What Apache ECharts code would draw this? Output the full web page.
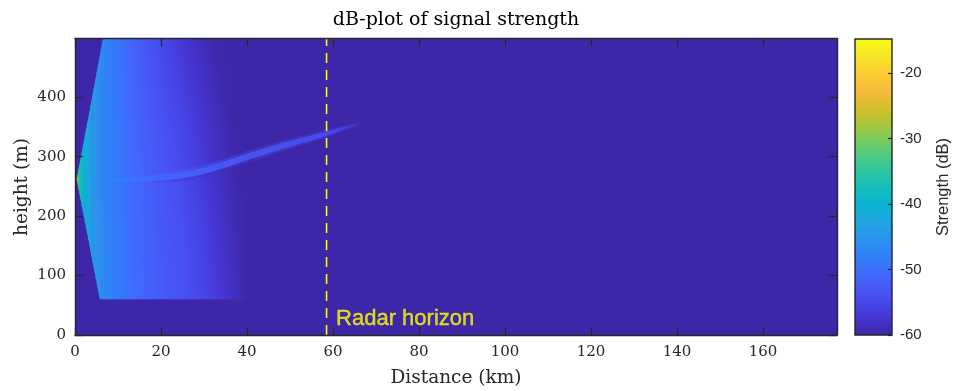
<!DOCTYPE html>
<html>
<head>
<meta charset="utf-8">
<script src="https://cdn.jsdelivr.net/npm/echarts@6/dist/echarts.min.js"></script>
<style>
  html, body { margin: 0; padding: 0; background: #ffffff; }
  #chart { width: 955px; height: 391px; }
</style>
</head>
<body>
<div id="chart"></div>
<script>
// ---- Field data -------------------------------------------------------
// Range profiles of the computed field (km) and the wedge it fills (m)
const profileKm = [0.35, 0.75, 1.25, 1.75, 2.25, 2.75, 3.25, 3.75, 4.25, 4.75, 5.25, 5.7, 6.1, 6.5, 7,
  8, 9, 10, 11, 12, 13, 14, 15, 16, 17, 18, 19, 20, 22, 24, 26, 28, 30, 32, 34, 36, 38, 40];
const wedgeTopM = [262, 277.5, 297, 316, 336, 355, 374, 394, 413, 432, 452, 469, 485, 500, 500,
  500, 500, 500, 500, 500, 500, 500, 500, 500, 500, 500, 500, 500, 500, 500, 500, 500, 500, 500, 500, 500, 500, 500];
const wedgeBottomM = [262, 247, 228, 209, 191, 172, 153, 134, 115, 97, 78, 61, 60, 60, 60,
  60, 60, 60, 60, 60, 60, 60, 60, 60, 60, 60, 60, 60, 60, 60, 60, 60, 60, 60, 60, 60, 60, 60];
// Heights (m) at which each profile's strength is given
const profileHeightsM = [60, 180, 262, 350, 500];
// Strength (dB) of each profile at the heights above
const profileDb = [
  [-32, -32, -28.5, -32, -32],
  [-36.5, -36.5, -33, -36.5, -36.5],
  [-38.8, -38.8, -36.5, -38.8, -38.8],
  [-40.4, -40.4, -38.8, -40.4, -40.4],
  [-41.5, -41.5, -40.4, -41.7, -41.7],
  [-42.2, -42.2, -41.5, -42.6, -42.6],
  [-42.9, -42.9, -42.6, -43.3, -43.3],
  [-43.5, -43.7, -43.7, -44, -44],
  [-44.1, -44.3, -44.4, -44.5, -44.5],
  [-44.7, -44.9, -45.1, -45.1, -45.1],
  [-45.2, -45.5, -45.7, -45.7, -45.7],
  [-45.7, -46, -46.3, -46.3, -46.2],
  [-46, -46.4, -46.7, -46.7, -46.5],
  [-46.4, -46.7, -47, -47, -46.8],
  [-46.8, -47.1, -47.4, -47.4, -47.3],
  [-47.4, -47.7, -47.9, -47.9, -48],
  [-47.9, -48.2, -48.4, -48.4, -48.7],
  [-48.4, -48.7, -48.9, -49, -49.3],
  [-48.9, -49.2, -49.4, -49.6, -50],
  [-49.4, -49.7, -49.9, -50.1, -50.6],
  [-49.9, -50.2, -50.4, -50.6, -51.2],
  [-50.3, -50.6, -50.8, -51.1, -51.8],
  [-50.7, -51, -51.2, -51.5, -52.3],
  [-51.1, -51.3, -51.6, -51.9, -52.8],
  [-51.4, -51.7, -51.9, -52.3, -53.3],
  [-51.7, -52, -52.2, -52.7, -53.8],
  [-52, -52.3, -52.6, -53.1, -54.3],
  [-52.3, -52.7, -52.9, -53.4, -54.8],
  [-52.8, -53.2, -53.6, -54.1, -55.7],
  [-53.3, -53.8, -54.3, -54.8, -56.6],
  [-53.8, -54.4, -55, -55.6, -57.5],
  [-54.5, -55.1, -55.8, -56.5, -58.3],
  [-55.3, -56, -56.7, -57.4, -59],
  [-56.1, -56.9, -57.6, -58.2, -59.6],
  [-57, -57.8, -58.5, -59, -60],
  [-57.9, -58.6, -59.2, -59.6, -60],
  [-58.9, -59.4, -59.7, -60, -60],
  [-60, -60, -60, -60, -60]
];

// Ducted beam rising with range
const streakKm    = [8, 12, 16, 20, 24, 28, 32, 36, 40, 44, 48, 52, 56, 58.5, 61, 64, 67];
const streakM     = [261, 262, 263, 265, 268, 273, 281, 290, 300, 309, 318, 326, 334, 339, 345, 351, 357];
const streakHalfM = [1.5, 2.5, 3.5, 4.2, 4.8, 5.2, 5.5, 5.5, 5.5, 5.2, 4.8, 4.4, 4, 3.6, 3, 2, 0.8];
const streakDb    = [-47.3, -48.6, -50, -51, -51.6, -52, -52.4, -52.7, -53, -53.2, -53.5, -53.8, -54.1, -54.4, -55.3, -56.9, -59.5];

// Faint null just under the beam
const shadowKm    = [14, 18, 22, 26, 30, 34, 38, 42];
const shadowM     = [256.5, 257, 259, 262.5, 268.5, 277, 286.5, 296];
const shadowHalfM = [1, 1.6, 2, 2.2, 2.2, 2, 1.8, 1.2];
const shadowDb    = [-51.5, -53.5, -55.8, -57.5, -58.8, -59.6, -60, -60];

const floorDb = -60;            // everything below is clipped to this
const dbRange = [-60, -14.8];   // colour scale limits
const horizonKm = 58.5;
const horizonLabel = 'Radar horizon';
const horizonLabelM = 27;

const xMax = 177.2, yMax = 499;
const xTicks = [0, 20, 40, 60, 80, 100, 120, 140, 160];
const yTicks = [0, 100, 200, 300, 400];
const cbTicks = [-60, -50, -40, -30, -20];

// ---- Colour map (parula) ------------------------------------------------
const PARULA = [
  [0 / 63, 0.2422, 0.1504, 0.6603], [4 / 63, 0.2706, 0.2147, 0.8364],
  [8 / 63, 0.2813, 0.3006, 0.9414], [12 / 63, 0.2699, 0.3892, 0.9906],
  [16 / 63, 0.1963, 0.4847, 0.9892], [20 / 63, 0.1687, 0.5703, 0.9359],
  [24 / 63, 0.1248, 0.6459, 0.8883], [28 / 63, 0.0297, 0.7082, 0.8163],
  [32 / 63, 0.0964, 0.7500, 0.7120], [36 / 63, 0.2161, 0.7843, 0.5923],
  [40 / 63, 0.3909, 0.8029, 0.4354], [44 / 63, 0.6174, 0.7876, 0.2612],
  [48 / 63, 0.8203, 0.7498, 0.1535], [52 / 63, 0.9728, 0.7298, 0.2394],
  [56 / 63, 0.9892, 0.8136, 0.1885], [60 / 63, 0.9597, 0.9135, 0.1423],
  [63 / 63, 0.9769, 0.9839, 0.0805]
];
function parulaAt(t) {
  t = Math.max(0, Math.min(1, t));
  let k = 0;
  while (k < PARULA.length - 2 && PARULA[k + 1][0] < t) k++;
  const a = PARULA[k], b = PARULA[k + 1];
  const u = (t - a[0]) / (b[0] - a[0]);
  const c = [1, 2, 3].map(j => Math.round(255 * (a[j] + (b[j] - a[j]) * u)));
  return 'rgb(' + c.join(',') + ')';
}
function dbColor(db) {
  return parulaAt((db - dbRange[0]) / (dbRange[1] - dbRange[0]));
}

// ---- Renderers -----------------------------------------------------------
function renderFloor(params, api) {
  const p0 = api.coord([0, yMax]);
  const p1 = api.coord([xMax, 0]);
  return { type: 'rect', shape: { x: p0[0], y: p0[1], width: p1[0] - p0[0], height: p1[1] - p0[1] },
    style: { fill: dbColor(floorDb) } };
}

// One panel between two neighbouring range profiles, shaded smoothly
// between them (thin strips, each with a vertical gradient).
function renderField(params, api) {
  const i = params.dataIndex;
  const A = api.coord([profileKm[i], 0]), B = api.coord([profileKm[i + 1], 0]);
  const yLo = api.coord([0, profileHeightsM[0]])[1];
  const yHi = api.coord([0, profileHeightsM[profileHeightsM.length - 1]])[1];
  const offsets = profileHeightsM.map(h => (api.coord([0, h])[1] - yLo) / (yHi - yLo));
  const topA = api.coord([0, wedgeTopM[i]])[1], topB = api.coord([0, wedgeTopM[i + 1]])[1];
  const botA = api.coord([0, wedgeBottomM[i]])[1], botB = api.coord([0, wedgeBottomM[i + 1]])[1];
  const n = Math.max(1, Math.ceil((B[0] - A[0]) / 1.5));
  const children = [];
  for (let s = 0; s < n; s++) {
    const u0 = s / n, u1 = (s + 1) / n, um = (s + 0.5) / n;
    const x0 = A[0] + (B[0] - A[0]) * u0;
    const x1 = A[0] + (B[0] - A[0]) * u1 + (i < profileDb.length - 2 || s < n - 1 ? 0.6 : 0);
    const pts = [
      [x0, botA + (botB - botA) * u0], [x1, botA + (botB - botA) * u1],
      [x1, topA + (topB - topA) * u1], [x0, topA + (topB - topA) * u0]
    ];
    const stops = offsets.map((o, k) => ({
      offset: o,
      color: dbColor(profileDb[i][k] + (profileDb[i + 1][k] - profileDb[i][k]) * um)
    }));
    children.push({ type: 'polygon', shape: { points: pts },
      style: { fill: new echarts.graphic.LinearGradient(0, yLo, 0, yHi, stops, true) } });
  }
  return { type: 'group', children: children };
}

function bandRenderer(km, mid, half, db, widen, opacity) {
  return function (params, api) {
    const j = params.dataIndex;
    const a = km[j], b = km[j + 1];
    const t1 = api.coord([a, mid[j] + half[j] * widen]);
    const t2 = api.coord([b, mid[j + 1] + half[j + 1] * widen]);
    const b2 = api.coord([b, mid[j + 1] - half[j + 1] * widen]);
    const b1 = api.coord([a, mid[j] - half[j] * widen]);
    if (j < km.length - 2) { t2[0] += 0.6; b2[0] += 0.6; }
    const fill = new echarts.graphic.LinearGradient(t1[0], 0, t2[0], 0,
      [{ offset: 0, color: dbColor(db[j]) }, { offset: 1, color: dbColor(db[j + 1]) }], true);
    return { type: 'polygon', shape: { points: [t1, t2, b2, b1] }, style: { fill: fill, opacity: opacity } };
  };
}

function renderColorbar(params, api) {
  const p0 = api.coord([0, dbRange[1]]);
  const p1 = api.coord([1, dbRange[0]]);
  const stops = PARULA.map(s => ({ offset: s[0], color: parulaAt(s[0]) }));
  return { type: 'rect', shape: { x: p0[0], y: p0[1], width: p1[0] - p0[0], height: p1[1] - p0[1] },
    style: { fill: new echarts.graphic.LinearGradient(0, p1[1], 0, p0[1], stops, true),
      stroke: '#262626', lineWidth: 1.4 } };
}

// ---- Chart ---------------------------------------------------------------
const ink = '#262626';
const frameLine = { show: true, onZero: false, lineStyle: { color: ink, width: 1.4 } };
const tickStyle = { color: ink, width: 1.2 };
// negative length turns the ticks into the plot box
const tickIn = (vals, len) => ({ show: true, inside: false, length: -len, lineStyle: tickStyle, customValues: vals });
const serif = 'DejaVu Serif';
const sans = 'Liberation Sans';

const chart = echarts.init(document.getElementById('chart'), null, { renderer: 'canvas' });
chart.setOption({
  animation: false,
  backgroundColor: '#ffffff',
  grid: [
    { left: 75, top: 38.5, width: 762, height: 296.5 },
    { left: 855, top: 39, width: 37, height: 296 }
  ],
  xAxis: [
    { gridIndex: 0, type: 'value', min: 0, max: xMax, position: 'bottom', z: 10,
      axisLine: frameLine, splitLine: { show: false }, axisTick: tickIn(xTicks, 8),
      axisLabel: { margin: 10, fontFamily: serif, fontSize: 15, color: ink, customValues: xTicks } },
    { gridIndex: 0, type: 'value', min: 0, max: xMax, position: 'top', z: 10,
      axisLine: frameLine, splitLine: { show: false }, axisLabel: { show: false },
      axisTick: tickIn(xTicks, 8) },
    { gridIndex: 1, type: 'value', min: 0, max: 1, show: false }
  ],
  yAxis: [
    { gridIndex: 0, type: 'value', min: 0, max: yMax, position: 'left', z: 10,
      axisLine: frameLine, splitLine: { show: false }, axisTick: tickIn(yTicks, 8),
      axisLabel: { margin: 9, fontFamily: serif, fontSize: 15, color: ink, customValues: yTicks } },
    { gridIndex: 0, type: 'value', min: 0, max: yMax, position: 'right', z: 10,
      axisLine: frameLine, splitLine: { show: false }, axisLabel: { show: false },
      axisTick: tickIn(yTicks, 8) },
    { gridIndex: 1, type: 'value', min: dbRange[0], max: dbRange[1], position: 'right', z: 10,
      axisLine: { show: false, onZero: false }, splitLine: { show: false }, axisTick: tickIn(cbTicks, 4),
      axisLabel: { margin: 8, fontFamily: sans, fontSize: 15, color: ink, customValues: cbTicks } }
  ],
  series: [
    { type: 'custom', xAxisIndex: 0, yAxisIndex: 0, z: 1, clip: true, silent: true,
      data: [[xMax / 2, yMax / 2]], renderItem: renderFloor },
    { type: 'custom', xAxisIndex: 0, yAxisIndex: 0, z: 2, clip: true, silent: true,
      data: profileKm.slice(0, -1).map(x => [x, profileHeightsM[2]]), renderItem: renderField },
    { type: 'custom', xAxisIndex: 0, yAxisIndex: 0, z: 3, clip: true, silent: true,
      data: streakKm.slice(0, -1).map((x, j) => [x, streakM[j]]),
      renderItem: bandRenderer(streakKm, streakM, streakHalfM, streakDb, 1.8, 0.3) },
    { type: 'custom', xAxisIndex: 0, yAxisIndex: 0, z: 4, clip: true, silent: true,
      data: shadowKm.slice(0, -1).map((x, j) => [x, shadowM[j]]),
      renderItem: bandRenderer(shadowKm, shadowM, shadowHalfM, shadowDb, 1, 0.7) },
    { type: 'custom', xAxisIndex: 0, yAxisIndex: 0, z: 5, clip: true, silent: true,
      data: streakKm.slice(0, -1).map((x, j) => [x, streakM[j]]),
      renderItem: bandRenderer(streakKm, streakM, streakHalfM, streakDb, 1, 0.9) },
    { type: 'line', xAxisIndex: 0, yAxisIndex: 0, z: 6, silent: true, symbol: 'none',
      data: [[horizonKm, 0], [horizonKm, yMax]],
      lineStyle: { color: '#ffff00', width: 1.6, type: [10, 7] } },
    { type: 'scatter', xAxisIndex: 0, yAxisIndex: 0, z: 7, silent: true, symbolSize: 1,
      itemStyle: { color: 'rgba(0,0,0,0)' },
      data: [[horizonKm, horizonLabelM]],
      label: { show: true, position: 'right', distance: 9, formatter: horizonLabel,
        fontFamily: sans, fontSize: 22, color: '#ffff00',
        textBorderColor: '#ffff00', textBorderWidth: 0.4 } },
    { type: 'custom', xAxisIndex: 2, yAxisIndex: 2, z: 2, silent: true,
      data: [[0.5, (dbRange[0] + dbRange[1]) / 2]], renderItem: renderColorbar }
  ],
  graphic: [
    { type: 'text', x: 456, y: 20, style: { text: 'dB-plot of signal strength', font: '19px "DejaVu Serif"',
      fill: '#000000', textAlign: 'center', textVerticalAlign: 'middle' } },
    { type: 'text', x: 456, y: 378, style: { text: 'Distance (km)', font: '18.5px "DejaVu Serif"',
      fill: ink, textAlign: 'center', textVerticalAlign: 'middle' } },
    { type: 'text', x: 22, y: 187, rotation: Math.PI / 2, style: { text: 'height (m)', font: '18.5px "DejaVu Serif"',
      fill: ink, textAlign: 'center', textVerticalAlign: 'middle' } },
    { type: 'text', x: 943, y: 187, rotation: Math.PI / 2, style: { text: 'Strength (dB)', font: '16.5px "Liberation Sans"',
      fill: ink, textAlign: 'center', textVerticalAlign: 'middle' } }
  ]
});
</script>
</body>
</html>
